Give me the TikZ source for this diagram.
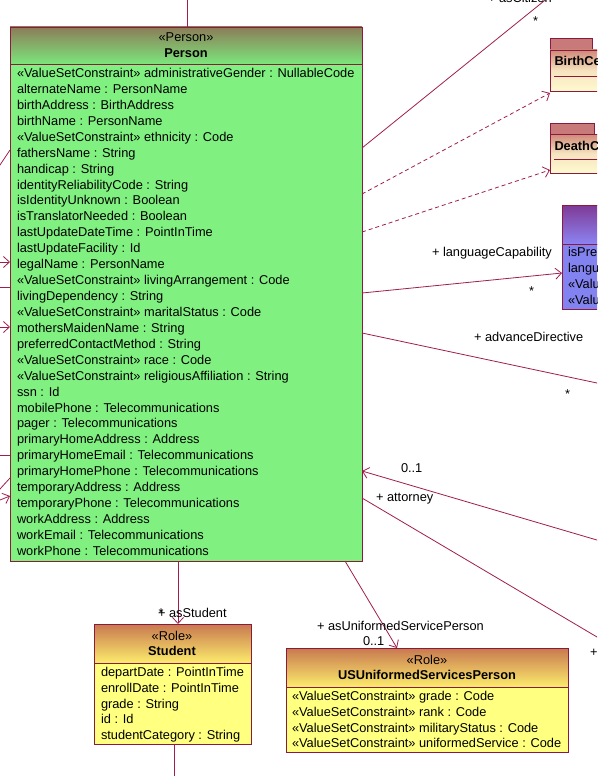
\documentclass[tikz,border=0pt]{standalone}
\usepackage{fontspec}
\setmainfont{Liberation Sans}
\usetikzlibrary{arrows.meta}
\definecolor{bord}{HTML}{8C1A3F}
\definecolor{linec}{HTML}{A01E4E}
\definecolor{pgbody}{HTML}{80F080}
\definecolor{pgtop}{HTML}{8C7C58}
\definecolor{pgbot}{HTML}{7CE67C}
\definecolor{rlbody}{HTML}{FFFF80}
\definecolor{rltop}{HTML}{C87850}
\definecolor{rlbot}{HTML}{FCEC6C}
\definecolor{pubody}{HTML}{8282F0}
\definecolor{putop}{HTML}{7E3A96}
\definecolor{pubot}{HTML}{8C84F2}
\definecolor{cream}{HTML}{FFFAD0}
\definecolor{rose}{HTML}{C87A7A}
\definecolor{rosetop}{HTML}{D08878}
\tikzset{
  txt/.style={font=\fontsize{12.8}{15}\selectfont, inner sep=0pt, outer sep=0pt, text=black},
  attr/.style={txt, anchor=base west},
  lbl/.style={txt, anchor=base west},
  ctr/.style={txt, anchor=base},
  bname/.style={txt, anchor=base, font=\fontsize{12.8}{15}\selectfont\bfseries},
  boxpart/.style={draw=bord, line width=0.9pt, inner sep=0pt, outer sep=0pt, anchor=north west, rectangle},
  conn/.style={draw=linec, line width=0.8pt},
  opena/.style={-{Straight Barb[length=6pt,width=11pt,line width=0.8pt]}},
  dashc/.style={conn, dash pattern=on 4pt off 3pt},
}
\begin{document}
\begin{tikzpicture}[x=1pt,y=-1pt]
\useasboundingbox[fill=white] (0,0) rectangle (597,776);
\clip (0,0) rectangle (597,776);

% ---------- Person ----------
\node[boxpart, minimum width=352pt, minimum height=37pt, top color=pgtop, bottom color=pgbot] (personhead) at (10,27) {};
\node[boxpart, minimum width=352pt, minimum height=497pt, fill=pgbody] (person) at (10,64) {};
\node[ctr] (pster) at (186,41.5) {«Person»};
\node[bname] (pname) at (186,57.5) {Person};
\foreach \t [count=\i] in {
 {«ValueSetConstraint» administrativeGender : NullableCode},
 {alternateName : PersonName},
 {birthAddress : BirthAddress},
 {birthName : PersonName},
 {«ValueSetConstraint» ethnicity : Code},
 {fathersName : String},
 {handicap : String},
 {identityReliabilityCode : String},
 {isIdentityUnknown : Boolean},
 {isTranslatorNeeded : Boolean},
 {lastUpdateDateTime : PointInTime},
 {lastUpdateFacility : Id},
 {legalName : PersonName},
 {«ValueSetConstraint» livingArrangement : Code},
 {livingDependency : String},
 {«ValueSetConstraint» maritalStatus : Code},
 {mothersMaidenName : String},
 {preferredContactMethod : String},
 {«ValueSetConstraint» race : Code},
 {«ValueSetConstraint» religiousAffiliation : String},
 {ssn : Id},
 {mobilePhone : Telecommunications},
 {pager : Telecommunications},
 {primaryHomeAddress : Address},
 {primaryHomeEmail : Telecommunications},
 {primaryHomePhone : Telecommunications},
 {temporaryAddress : Address},
 {temporaryPhone : Telecommunications},
 {workAddress : Address},
 {workEmail : Telecommunications},
 {workPhone : Telecommunications}}
 \node[attr] (pa\i) at (17,{77.5+15.93*(\i-1)}) {\t};

% ---------- BirthCe / DeathC ----------
\node[boxpart, minimum width=42pt, minimum height=12pt, fill=rose] (birthtab) at (550,38) {};
\node[boxpart, minimum width=90pt, minimum height=41pt, top color=rosetop, bottom color=cream, middle color=cream!80!rosetop] (birth) at (550,50) {};
\node[txt, anchor=base west, font=\fontsize{12.8}{15}\selectfont\bfseries] (birthname) at (554.5,65.5) {BirthCe};
\draw[draw=bord, line width=0.9pt] (554,76) -- (640,76);

\node[boxpart, minimum width=44pt, minimum height=11pt, fill=rose] (deathtab) at (550,123) {};
\node[boxpart, minimum width=90pt, minimum height=39pt, top color=rosetop, bottom color=cream, middle color=cream!80!rosetop] (death) at (550,134) {};
\node[txt, anchor=base west, font=\fontsize{12.8}{15}\selectfont\bfseries] (deathname) at (554.5,150.5) {DeathC};
\draw[draw=bord, line width=0.9pt] (554,159) -- (640,159);

% ---------- purple class ----------
\node[boxpart, minimum width=80pt, minimum height=39pt, top color=putop, bottom color=pubot] (langhead) at (562,205) {};
\node[boxpart, minimum width=80pt, minimum height=65pt, fill=pubody] (lang) at (562,244) {};
\node[attr] (la1) at (568,256.5) {isPre};
\node[attr] (la2) at (568,272.5) {langu};
\node[attr] (la3) at (568,288.5) {«Valu};
\node[attr] (la4) at (568,304.5) {«Valu};

% ---------- Student ----------
\node[boxpart, minimum width=157pt, minimum height=39pt, top color=rltop, bottom color=rlbot] (studhead) at (94,624) {};
\node[boxpart, minimum width=157pt, minimum height=81pt, fill=rlbody] (stud) at (94,663) {};
\node[ctr] (sster) at (172,640.5) {«Role»};
\node[bname] (sname) at (172,655.5) {Student};
\foreach \t [count=\i] in {
 {departDate : PointInTime},
 {enrollDate : PointInTime},
 {grade : String},
 {id : Id},
 {studentCategory : String}}
 \node[attr] (sa\i) at (101,{676.5+15.8*(\i-1)}) {\t};

% ---------- USUniformedServicesPerson ----------
\node[boxpart, minimum width=282pt, minimum height=39pt, top color=rltop, bottom color=rlbot] (ushead) at (286,648) {};
\node[boxpart, minimum width=282pt, minimum height=65pt, fill=rlbody] (us) at (286,687) {};
\node[ctr] (uster) at (427,664.5) {«Role»};
\node[bname] (usname) at (427,679.5) {USUniformedServicesPerson};
\foreach \t [count=\i] in {
 {«ValueSetConstraint» grade : Code},
 {«ValueSetConstraint» rank : Code},
 {«ValueSetConstraint» militaryStatus : Code},
 {«ValueSetConstraint» uniformedService : Code}}
 \node[attr] (ua\i) at (292,{700.5+15.8*(\i-1)}) {\t};

% ---------- connector end points ----------
\coordinate (topout) at (187,-10);
\coordinate (ptop) at (187,27);
\coordinate (pcit) at (362,148);
\coordinate (citout) at (570,-20);
\coordinate (pbirth) at (362,194);
\coordinate (birthin) at (550,93);
\coordinate (pdeath) at (362,232);
\coordinate (deathin) at (550,170);
\coordinate (plang) at (362,293);
\coordinate (langin) at (562,273);
\coordinate (padv) at (362,333);
\coordinate (advout) at (620,387.9);
\coordinate (patt1) at (362,471);
\coordinate (att1out) at (620,546.8);
\coordinate (patt2) at (362,498);
\coordinate (att2out) at (620,650.6);
\coordinate (pus) at (345,561);
\coordinate (usin) at (397,648);
\coordinate (pstud) at (178,561);
\coordinate (studin) at (178,624);
\coordinate (studbot) at (174,744);
\coordinate (studout) at (174,790);
% left side
\coordinate (l1out) at (-20,195);  \coordinate (l1) at (10,150);
\coordinate (l2out) at (-20,262);  \coordinate (l2) at (10,262);
\coordinate (l3out) at (-20,287);  \coordinate (l3) at (10,287);
\coordinate (l4out) at (-20,327);  \coordinate (l4) at (10,327);
\coordinate (l5out) at (-20,455);  \coordinate (l5) at (10,455);
\coordinate (l6out) at (-20,511);  \coordinate (l6) at (10,478);
\coordinate (l7out) at (-20,508);  \coordinate (l7) at (10,496);

% ---------- connectors ----------
\draw[conn] (topout) -- (ptop);
\draw[conn] (pcit) -- (citout);
\draw[dashc, opena] (pbirth) -- (birthin);
\draw[dashc, opena] (pdeath) -- (deathin);
\draw[conn, opena] (plang) -- (langin);
\draw[conn] (padv) -- (advout);
\draw[conn, opena] (att1out) -- (patt1);
\draw[conn] (patt2) -- (att2out);
\draw[conn, opena] (pus) -- (usin);
\draw[conn, opena] (pstud) -- (studin);
\draw[conn] (studbot) -- (studout);
\draw[conn] (l1out) -- (l1);
\draw[conn, opena] (l2out) -- (l2);
\draw[conn] (l3out) -- (l3);
\draw[conn, opena] (l4out) -- (l4);
\draw[conn] (l5out) -- (l5);
\draw[conn] (l6out) -- (l6);
\draw[conn, opena] (l7out) -- (l7);

% ---------- labels ----------
\node[lbl] (lcit) at (488,3) {+ asCitizen};
\node[lbl] (mcit) at (533,25.5) {*};
\node[lbl] (llang) at (432,256.5) {+ languageCapability};
\node[lbl] (mlang) at (529,295.5) {*};
\node[lbl] (ladv) at (474,341.5) {+ advanceDirective};
\node[lbl] (madv) at (565,398.5) {*};
\node[lbl] (matt1) at (401,472.5) {0..1};
\node[lbl] (latt2) at (376,501.5) {+ attorney};
\node[lbl] (latt3) at (590,656) {+};
\node[lbl] (lus) at (317,630.5) {+ asUniformedServicePerson};
\node[lbl] (mus) at (363,645.5) {0..1};
\node[lbl] (lstud) at (158,617.5) {+ asStudent};
\node[lbl] (mstud) at (158.5,617) {*};
\end{tikzpicture}
\end{document}
